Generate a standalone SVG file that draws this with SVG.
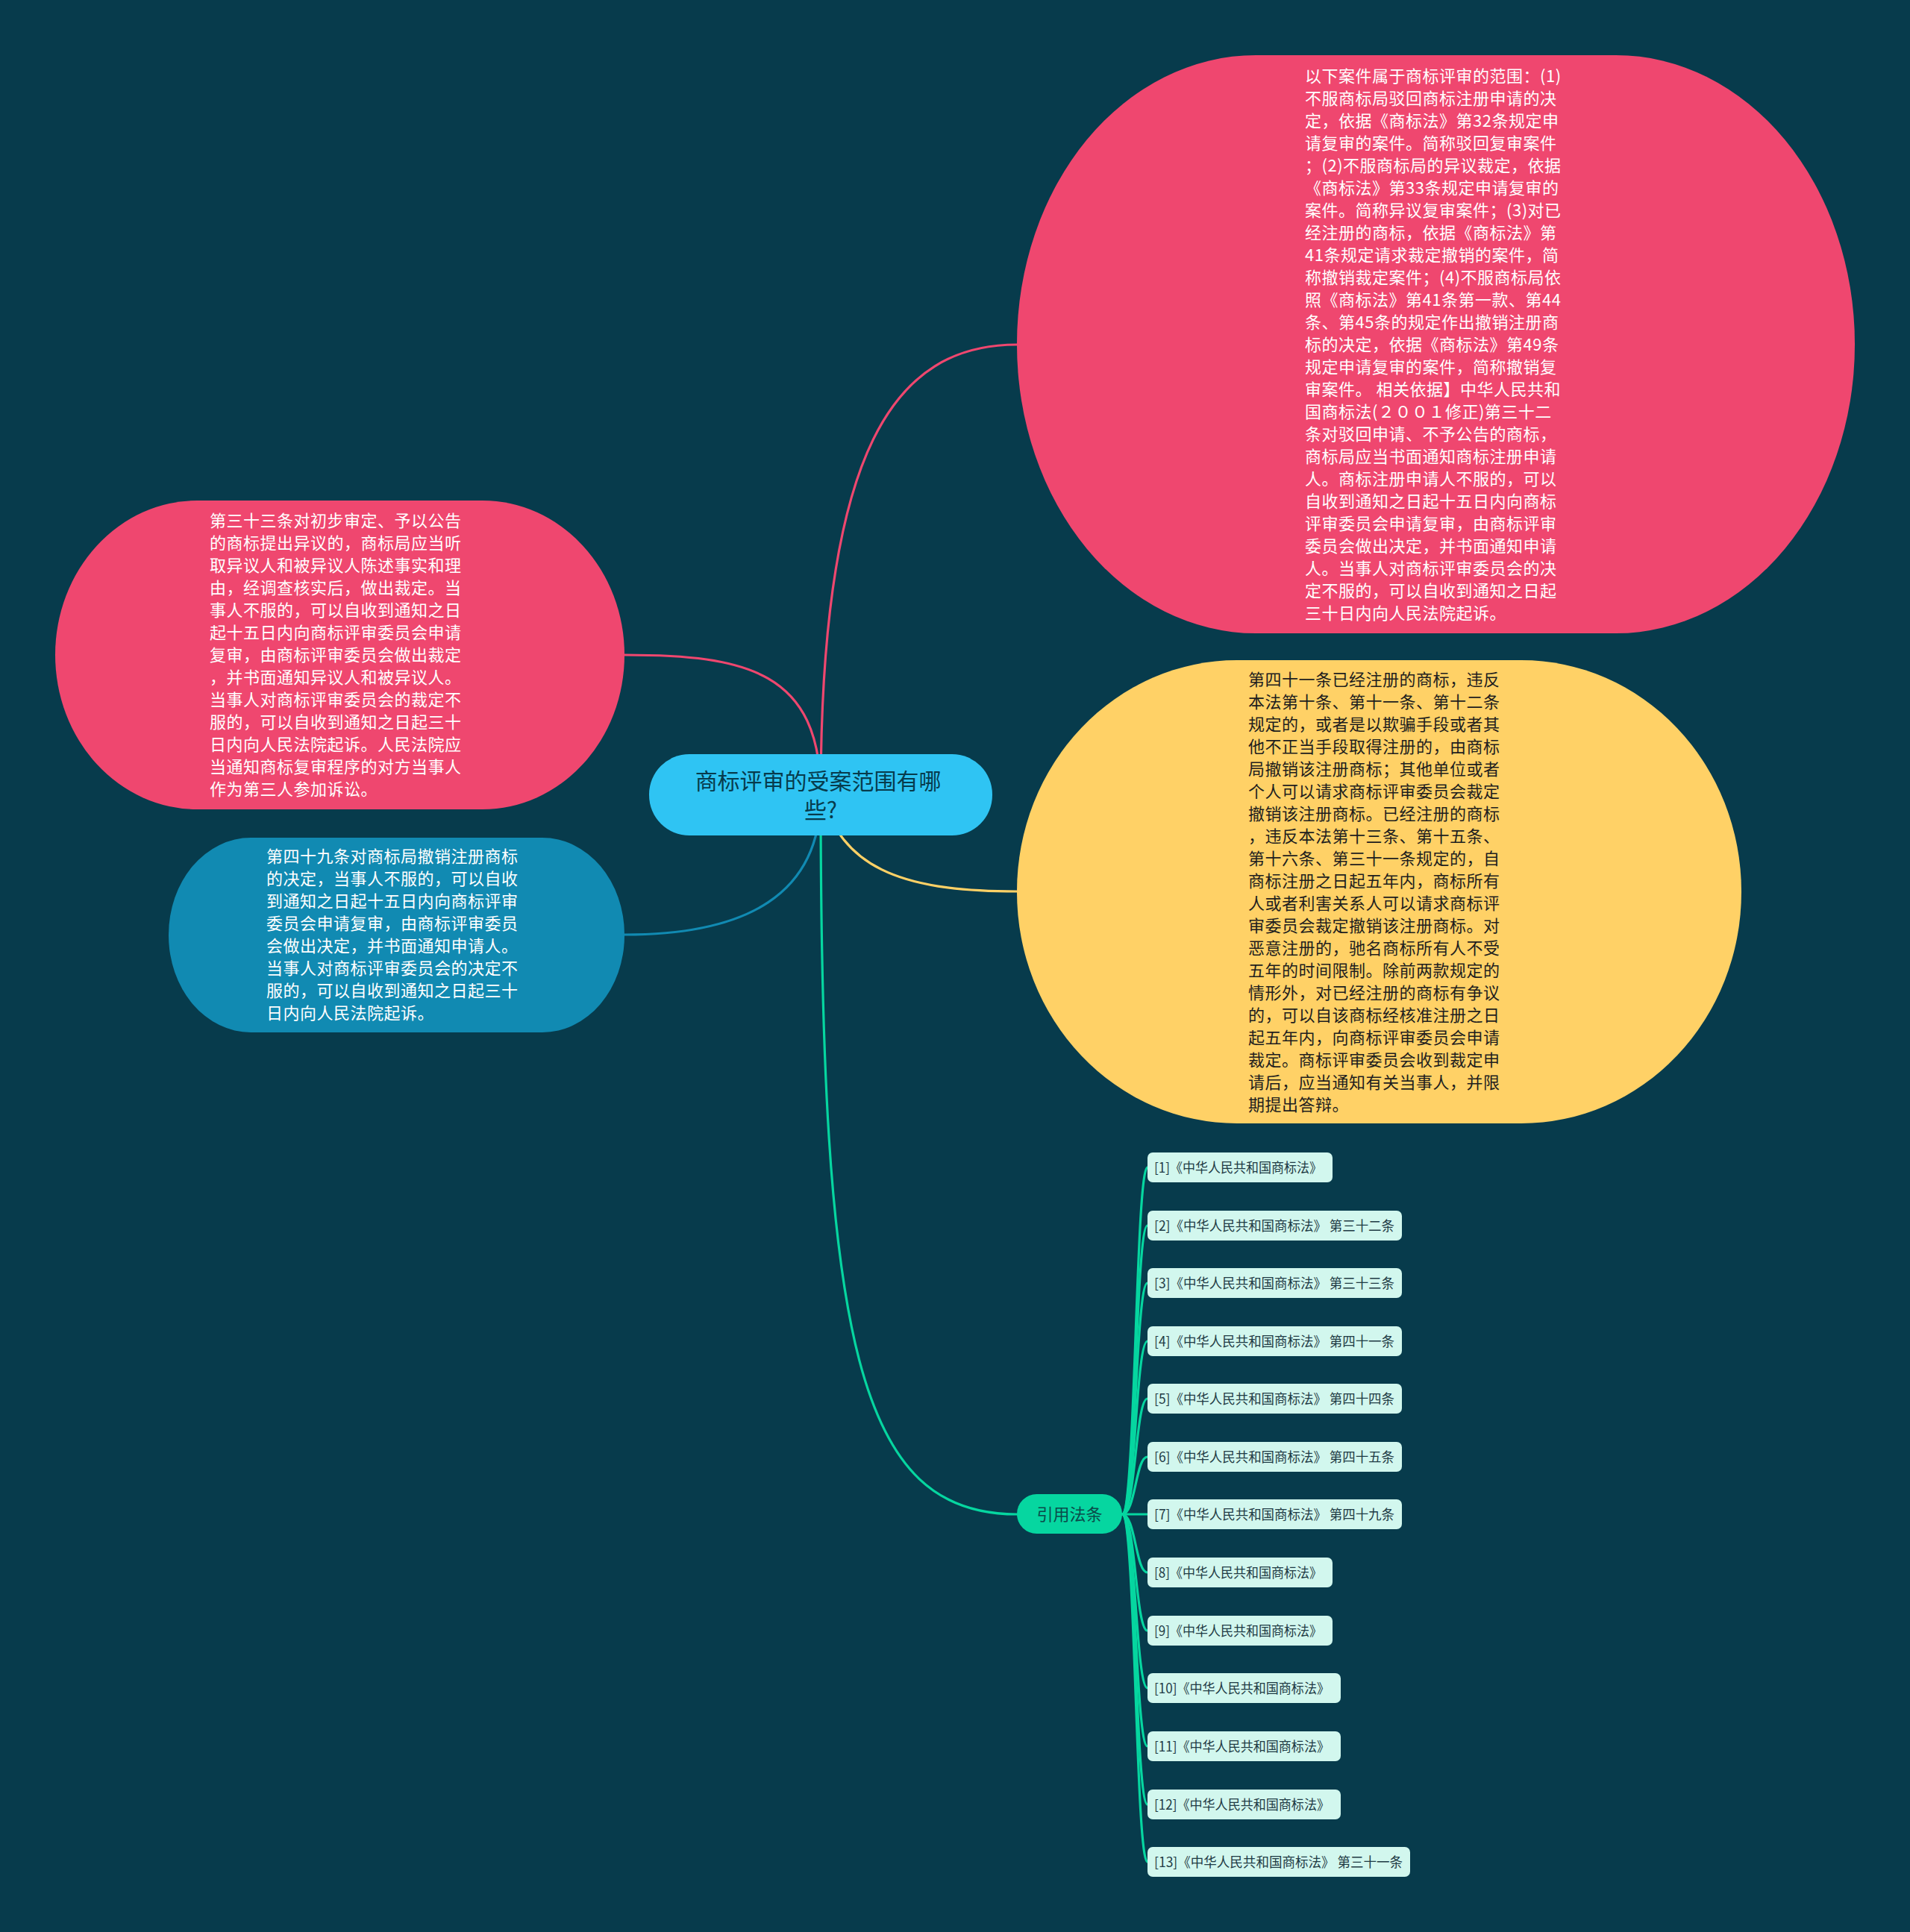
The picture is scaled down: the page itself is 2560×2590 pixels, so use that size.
<svg xmlns="http://www.w3.org/2000/svg" width="2560" height="2590" viewBox="0 0 2560 2590">
<style>
text{font-family:"Noto Sans CJK SC","Noto Sans",sans-serif;}
.body{font-size:22px;letter-spacing:0.5px;}
.white{fill:#ffffff;}
.dark{fill:#1e1e1e;}
.leaf rect{fill:#d2f7ee;}
.leaf text{font-size:18px;fill:#1f3b45;}
.conn path{fill:none;stroke-width:3.2;stroke-linecap:round;}
.pink{stroke:#ef476f;}
.yellow{stroke:#ffd166;}
.blue{stroke:#118ab2;}
.green{stroke:#06d6a0;}
</style>
<rect x="0" y="0" width="2560" height="2590" fill="#073b4c"/>
<g id="connectors" class="conn">
<path class="pink" d="M1100,1065 C1100,600 1200,462 1363,462"/>
<path class="pink" d="M1100,1065 C1100,900 1000,878 837,878"/>
<path class="blue" d="M1100,1065 C1100,1200 1000,1253 837,1253"/>
<path class="yellow" d="M1100,1065 C1130,1160 1200,1195 1363,1195"/>
<path class="green" d="M1100,1065 C1100,1800 1150,2030 1363,2030"/>
<path class="green" d="M1504,2030 C1522,2030 1522,1565 1538,1565"/>
<path class="green" d="M1504,2030 C1522,2030 1522,1643 1538,1643"/>
<path class="green" d="M1504,2030 C1522,2030 1522,1720 1538,1720"/>
<path class="green" d="M1504,2030 C1522,2030 1522,1798 1538,1798"/>
<path class="green" d="M1504,2030 C1522,2030 1522,1875 1538,1875"/>
<path class="green" d="M1504,2030 C1522,2030 1522,1953 1538,1953"/>
<path class="green" d="M1504,2030 L1538,2030"/>
<path class="green" d="M1504,2030 C1522,2030 1522,2108 1538,2108"/>
<path class="green" d="M1504,2030 C1522,2030 1522,2186 1538,2186"/>
<path class="green" d="M1504,2030 C1522,2030 1522,2263 1538,2263"/>
<path class="green" d="M1504,2030 C1522,2030 1522,2341 1538,2341"/>
<path class="green" d="M1504,2030 C1522,2030 1522,2419 1538,2419"/>
<path class="green" d="M1504,2030 C1522,2030 1522,2496 1538,2496"/>
</g>
<g id="node-scope">
<rect x="1363" y="74" width="1123" height="775" rx="320" ry="387" fill="#ef476f"/>
<text class="body white" x="1749" y="110">
<tspan x="1749" y="110">以下案件属于商标评审的范围：(1)</tspan>
<tspan x="1749" dy="30">不服商标局驳回商标注册申请的决</tspan>
<tspan x="1749" dy="30">定，依据《商标法》第32条规定申</tspan>
<tspan x="1749" dy="30">请复审的案件。简称驳回复审案件</tspan>
<tspan x="1749" dy="30">；(2)不服商标局的异议裁定，依据</tspan>
<tspan x="1749" dy="30">《商标法》第33条规定申请复审的</tspan>
<tspan x="1749" dy="30">案件。简称异议复审案件；(3)对已</tspan>
<tspan x="1749" dy="30">经注册的商标，依据《商标法》第</tspan>
<tspan x="1749" dy="30">41条规定请求裁定撤销的案件，简</tspan>
<tspan x="1749" dy="30">称撤销裁定案件；(4)不服商标局依</tspan>
<tspan x="1749" dy="30">照《商标法》第41条第一款、第44</tspan>
<tspan x="1749" dy="30">条、第45条的规定作出撤销注册商</tspan>
<tspan x="1749" dy="30">标的决定，依据《商标法》第49条</tspan>
<tspan x="1749" dy="30">规定申请复审的案件，简称撤销复</tspan>
<tspan x="1749" dy="30">审案件。 相关依据】中华人民共和</tspan>
<tspan x="1749" dy="30">国商标法(２００１修正)第三十二</tspan>
<tspan x="1749" dy="30">条对驳回申请、不予公告的商标，</tspan>
<tspan x="1749" dy="30">商标局应当书面通知商标注册申请</tspan>
<tspan x="1749" dy="30">人。商标注册申请人不服的，可以</tspan>
<tspan x="1749" dy="30">自收到通知之日起十五日内向商标</tspan>
<tspan x="1749" dy="30">评审委员会申请复审，由商标评审</tspan>
<tspan x="1749" dy="30">委员会做出决定，并书面通知申请</tspan>
<tspan x="1749" dy="30">人。当事人对商标评审委员会的决</tspan>
<tspan x="1749" dy="30">定不服的，可以自收到通知之日起</tspan>
<tspan x="1749" dy="30">三十日内向人民法院起诉。</tspan>
</text>
</g>
<g id="node-art41">
<rect x="1363" y="885" width="971" height="621" rx="295" ry="310" fill="#ffd166"/>
<text class="body dark" x="1673" y="919">
<tspan x="1673" y="919">第四十一条已经注册的商标，违反</tspan>
<tspan x="1673" dy="30">本法第十条、第十一条、第十二条</tspan>
<tspan x="1673" dy="30">规定的，或者是以欺骗手段或者其</tspan>
<tspan x="1673" dy="30">他不正当手段取得注册的，由商标</tspan>
<tspan x="1673" dy="30">局撤销该注册商标；其他单位或者</tspan>
<tspan x="1673" dy="30">个人可以请求商标评审委员会裁定</tspan>
<tspan x="1673" dy="30">撤销该注册商标。已经注册的商标</tspan>
<tspan x="1673" dy="30">，违反本法第十三条、第十五条、</tspan>
<tspan x="1673" dy="30">第十六条、第三十一条规定的，自</tspan>
<tspan x="1673" dy="30">商标注册之日起五年内，商标所有</tspan>
<tspan x="1673" dy="30">人或者利害关系人可以请求商标评</tspan>
<tspan x="1673" dy="30">审委员会裁定撤销该注册商标。对</tspan>
<tspan x="1673" dy="30">恶意注册的，驰名商标所有人不受</tspan>
<tspan x="1673" dy="30">五年的时间限制。除前两款规定的</tspan>
<tspan x="1673" dy="30">情形外，对已经注册的商标有争议</tspan>
<tspan x="1673" dy="30">的，可以自该商标经核准注册之日</tspan>
<tspan x="1673" dy="30">起五年内，向商标评审委员会申请</tspan>
<tspan x="1673" dy="30">裁定。商标评审委员会收到裁定申</tspan>
<tspan x="1673" dy="30">请后，应当通知有关当事人，并限</tspan>
<tspan x="1673" dy="30">期提出答辩。</tspan>
</text>
</g>
<g id="node-art33">
<rect x="74" y="671" width="763" height="414" rx="190" ry="207" fill="#ef476f"/>
<text class="body white" x="281" y="706">
<tspan x="281" y="706">第三十三条对初步审定、予以公告</tspan>
<tspan x="281" dy="30">的商标提出异议的，商标局应当听</tspan>
<tspan x="281" dy="30">取异议人和被异议人陈述事实和理</tspan>
<tspan x="281" dy="30">由，经调查核实后，做出裁定。当</tspan>
<tspan x="281" dy="30">事人不服的，可以自收到通知之日</tspan>
<tspan x="281" dy="30">起十五日内向商标评审委员会申请</tspan>
<tspan x="281" dy="30">复审，由商标评审委员会做出裁定</tspan>
<tspan x="281" dy="30">，并书面通知异议人和被异议人。</tspan>
<tspan x="281" dy="30">当事人对商标评审委员会的裁定不</tspan>
<tspan x="281" dy="30">服的，可以自收到通知之日起三十</tspan>
<tspan x="281" dy="30">日内向人民法院起诉。人民法院应</tspan>
<tspan x="281" dy="30">当通知商标复审程序的对方当事人</tspan>
<tspan x="281" dy="30">作为第三人参加诉讼。</tspan>
</text>
</g>
<g id="node-art49">
<rect x="226" y="1123" width="611" height="261" rx="110" ry="130" fill="#118ab2"/>
<text class="body white" x="357" y="1156">
<tspan x="357" y="1156">第四十九条对商标局撤销注册商标</tspan>
<tspan x="357" dy="30">的决定，当事人不服的，可以自收</tspan>
<tspan x="357" dy="30">到通知之日起十五日内向商标评审</tspan>
<tspan x="357" dy="30">委员会申请复审，由商标评审委员</tspan>
<tspan x="357" dy="30">会做出决定，并书面通知申请人。</tspan>
<tspan x="357" dy="30">当事人对商标评审委员会的决定不</tspan>
<tspan x="357" dy="30">服的，可以自收到通知之日起三十</tspan>
<tspan x="357" dy="30">日内向人民法院起诉。</tspan>
</text>
</g>
<g id="node-root">
<rect x="870" y="1011" width="460" height="109" rx="54" ry="54" fill="#2fc4f3"/>
<text x="1100" y="1058" text-anchor="middle" font-size="30" fill="#073b4c">
<tspan x="1100" y="1058">商标评审的受案范围有哪</tspan>
<tspan x="1100" y="1097">些?</tspan>
</text>
</g>
<g id="node-cite">
<rect x="1363" y="2003" width="141" height="53" rx="26.5" ry="26.5" fill="#06d6a0"/>
<text x="1433.5" y="2038" text-anchor="middle" font-size="22" fill="#0b4a4a">引用法条</text>
</g>
<g id="leaf-1" class="leaf"><rect x="1538" y="1545" width="248" height="40" rx="7"/><text x="1547" y="1571.5" textLength="225" lengthAdjust="spacingAndGlyphs">[1]《中华人民共和国商标法》</text></g>
<g id="leaf-2" class="leaf"><rect x="1538" y="1623" width="341" height="40" rx="7"/><text x="1547" y="1649.5" textLength="322" lengthAdjust="spacingAndGlyphs">[2]《中华人民共和国商标法》 第三十二条</text></g>
<g id="leaf-3" class="leaf"><rect x="1538" y="1700" width="341" height="40" rx="7"/><text x="1547" y="1726.5" textLength="322" lengthAdjust="spacingAndGlyphs">[3]《中华人民共和国商标法》 第三十三条</text></g>
<g id="leaf-4" class="leaf"><rect x="1538" y="1778" width="341" height="40" rx="7"/><text x="1547" y="1804.5" textLength="322" lengthAdjust="spacingAndGlyphs">[4]《中华人民共和国商标法》 第四十一条</text></g>
<g id="leaf-5" class="leaf"><rect x="1538" y="1855" width="341" height="40" rx="7"/><text x="1547" y="1881.5" textLength="322" lengthAdjust="spacingAndGlyphs">[5]《中华人民共和国商标法》 第四十四条</text></g>
<g id="leaf-6" class="leaf"><rect x="1538" y="1933" width="341" height="40" rx="7"/><text x="1547" y="1959.5" textLength="322" lengthAdjust="spacingAndGlyphs">[6]《中华人民共和国商标法》 第四十五条</text></g>
<g id="leaf-7" class="leaf"><rect x="1538" y="2010" width="341" height="40" rx="7"/><text x="1547" y="2036.5" textLength="322" lengthAdjust="spacingAndGlyphs">[7]《中华人民共和国商标法》 第四十九条</text></g>
<g id="leaf-8" class="leaf"><rect x="1538" y="2088" width="248" height="40" rx="7"/><text x="1547" y="2114.5" textLength="225" lengthAdjust="spacingAndGlyphs">[8]《中华人民共和国商标法》</text></g>
<g id="leaf-9" class="leaf"><rect x="1538" y="2166" width="248" height="40" rx="7"/><text x="1547" y="2192.5" textLength="225" lengthAdjust="spacingAndGlyphs">[9]《中华人民共和国商标法》</text></g>
<g id="leaf-10" class="leaf"><rect x="1538" y="2243" width="259" height="40" rx="7"/><text x="1547" y="2269.5" textLength="235" lengthAdjust="spacingAndGlyphs">[10]《中华人民共和国商标法》</text></g>
<g id="leaf-11" class="leaf"><rect x="1538" y="2321" width="259" height="40" rx="7"/><text x="1547" y="2347.5" textLength="235" lengthAdjust="spacingAndGlyphs">[11]《中华人民共和国商标法》</text></g>
<g id="leaf-12" class="leaf"><rect x="1538" y="2399" width="259" height="40" rx="7"/><text x="1547" y="2425.5" textLength="235" lengthAdjust="spacingAndGlyphs">[12]《中华人民共和国商标法》</text></g>
<g id="leaf-13" class="leaf"><rect x="1538" y="2476" width="352" height="40" rx="7"/><text x="1547" y="2502.5" textLength="333" lengthAdjust="spacingAndGlyphs">[13]《中华人民共和国商标法》 第三十一条</text></g>
</svg>
